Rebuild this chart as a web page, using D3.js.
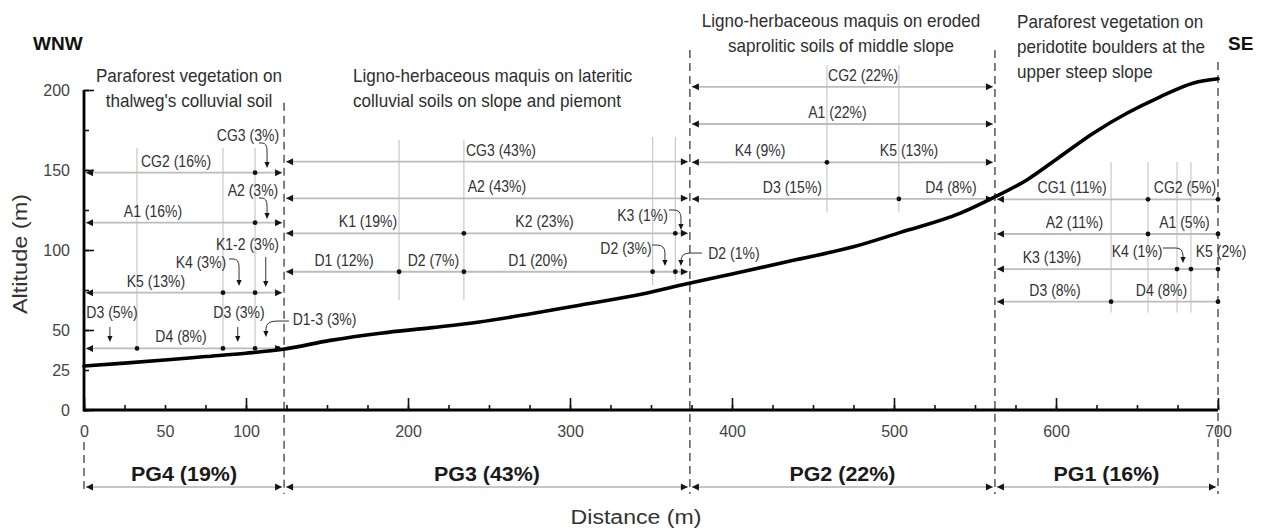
<!DOCTYPE html>
<html><head><meta charset="utf-8">
<script src="https://cdn.jsdelivr.net/npm/d3@7"></script>
<style>body{margin:0;background:#fff} svg{display:block}</style>
</head><body>
<svg id="c" width="1265" height="531"></svg>
<script>
// ---------- DATA ----------
const profileDist = [0, 25, 50, 75, 100, 123, 152, 183, 215, 244, 275, 306, 340, 368, 400, 440, 475, 504, 541, 562, 582, 602, 623, 644, 664, 685, 700];
const profileAlt  = [27.5, 29.3, 31.3, 33.4, 35.5, 38, 43.5, 48, 51.5, 55, 60, 65.5, 71.5, 78, 85, 94, 102, 111, 123, 133, 143.8, 158, 173, 185.6, 195.6, 204.4, 207];

const zoneBounds = [0, 123.5, 374, 562.3, 700];
const zoneLabels = ["PG4 (19%)", "PG3 (43%)", "PG2 (22%)", "PG1 (16%)"];
const zoneTitles = [
  ["Paraforest vegetation on", "thalweg's colluvial soil"],
  ["Ligno-herbaceous maquis on lateritic", "colluvial soils on slope and piemont"],
  ["Ligno-herbaceous maquis on eroded", "saprolitic soils of middle slope"],
  ["Paraforest vegetation on", "peridotite boulders at the", "upper steep slope"]
];
const directionLabels = ["WNW", "SE"];
const xTickLabels = [0, 50, 100, 200, 300, 400, 500, 600, 700];
const yTickLabels = [0, 25, 50, 100, 150, 200];

const pg4Rows = [
  {alt:148.3, breaks:[0,105.6,123.5], labels:[{t:"CG2 (16%)",at:56.8},{t:"CG3 (3%)",at:101.2,base:168.1}]},
  {alt:117.1, breaks:[0,105.6,123.5], labels:[{t:"A1 (16%)",at:42.6},{t:"A2 (3%)",at:104.3,base:133.75}]},
  {alt:73.3,  breaks:[0,85.8,105.6,123.5], labels:[{t:"K5 (13%)",at:44.4},{t:"K4 (3%)",at:72.2,base:88.75},{t:"K1-2 (3%)",at:100.9,base:100}]},
  {alt:38.5,  breaks:[0,32.7,85.8,105.6,119.8,123.5], labels:[{t:"D3 (5%)",at:17.3,base:57.5},{t:"D4 (8%)",at:59.9},{t:"D3 (3%)",at:95.7,base:57.5},{t:"D1-3 (3%)",at:148.5,base:53.1}]}
];
const pg3Rows = [
  {alt:155.2, breaks:[123.5,374], labels:[{t:"CG3 (43%)",at:257.4}]},
  {alt:132.3, breaks:[123.5,374], labels:[{t:"A2 (43%)",at:254.9}]},
  {alt:110.4, breaks:[123.5,234.5,365,374], labels:[{t:"K1 (19%)",at:175.3},{t:"K2 (23%)",at:284.3},{t:"K3 (1%)",at:344.8,base:118.1}]},
  {alt:86.4,  breaks:[123.5,194.5,234.5,351,365,374], labels:[{t:"D1 (12%)",at:160.5},{t:"D2 (7%)",at:215.7},{t:"D1 (20%)",at:280.2},{t:"D2 (3%)",at:334.6,base:97.5},{t:"D2 (1%)",at:401.2,base:94.4}]}
];
const pg2Rows = [
  {alt:202,    breaks:[374,562.3], labels:[{t:"CG2 (22%)",at:480.9}]},
  {alt:178.75, breaks:[374,562.3], labels:[{t:"A1 (22%)",at:465.1}]},
  {alt:154.8,  breaks:[374,458.6,562.3], labels:[{t:"K4 (9%)",at:417.3},{t:"K5 (13%)",at:509.3}]},
  {alt:131.9,  breaks:[374,503,562.3], labels:[{t:"D3 (15%)",at:437.3},{t:"D4 (8%)",at:535.2}]}
];
const pg1Rows = [
  {alt:131.7, breaks:[562.3,656.8,700], labels:[{t:"CG1 (11%)",at:609.9},{t:"CG2 (5%)",at:679.6}]},
  {alt:110,   breaks:[562.3,656.8,700], labels:[{t:"A2 (11%)",at:611.4},{t:"A1 (5%)",at:679.3}]},
  {alt:88.1,  breaks:[562.3,674.7,683.3,700], labels:[{t:"K3 (13%)",at:597.5},{t:"K4 (1%)",at:650,base:95.6},{t:"K5 (2%)",at:701.9,base:95.6}]},
  {alt:67.7,  breaks:[562.3,634,700], labels:[{t:"D3 (8%)",at:599.4},{t:"D4 (8%)",at:665.1}]}
];

// vertical guide lines (distance, top altitude, bottom altitude)
const guideLines = [
  {at:32.7, top:163.75, bottom:38.5}, {at:85.8, top:163.75, bottom:38.5}, {at:105.6, top:163.75, bottom:38.5},
  {at:194.5, top:168.75, bottom:68.75}, {at:234.5, top:168.75, bottom:68.75}, {at:351, top:170.6, bottom:78}, {at:365, top:170.6, bottom:81},
  {at:458.6, top:215.6, bottom:123.75}, {at:503, top:215.6, bottom:123.75},
  {at:634, top:155, bottom:61}, {at:656.8, top:155, bottom:61}, {at:674.7, top:155, bottom:61}, {at:683.3, top:155, bottom:61}
];

// callout pointers (from label to segment), in data units
const callouts = [
  {from:[108.0,166.9], elbow:109.9, tip:[113.0,151.25]},
  {from:[108.0,132.5], elbow:109.9, tip:[113.0,119.4]},
  {from:[89.5,94.4],   elbow:92.0,  tip:[95.7,77.5]},
  {from:[112.2,95.6],  tip:[112.2,76.9]},
  {from:[16.0,51.9],   tip:[16.0,42.5]},
  {from:[94.9,51.9],   tip:[94.9,42.5]},
  {from:[126.5,55.6],  elbow:119.1, tip:[112.3,45.6]},
  {from:[361.1,125],   elbow:364.2, tip:[368.5,112.5]},
  {from:[350.6,103.1], elbow:353.7, tip:[358.6,90]},
  {from:[381.5,98.1],  elbow:374.1, tip:[368.5,90]},
  {from:[666.0,101.25],elbow:674.1, tip:[678.4,91.9]}
];

// ---------- LAYOUT ----------
const FONT = "'Liberation Sans', Arial, Helvetica, sans-serif";
const svg = d3.select("#c");
const x = d3.scaleLinear().domain([0, 700]).range([84, 1218]);
const y = d3.scaleLinear().domain([0, 200]).range([410, 90]);

function txt(g, s, px, py, o) {
  o = o || {};
  const t = g.append("text")
    .attr("transform", `translate(${px},${py})` + (o.rot ? ` rotate(${o.rot})` : "") + ` scale(${o.sx || 1},1)`)
    .attr("font-family", FONT)
    .attr("font-size", o.size || 16)
    .attr("font-weight", o.weight || "normal")
    .attr("text-anchor", o.anchor || "middle")
    .attr("fill", o.fill || "#333")
    .text(s);
  return t;
}

const gGuides = svg.append("g");
const gRows = svg.append("g");
const gDash = svg.append("g");
const gMarks = svg.append("g");
const gCurve = svg.append("g");
const gText = svg.append("g");
const gAxis = svg.append("g");

// guides
gGuides.selectAll("line").data(guideLines).join("line")
  .attr("x1", d => x(d.at)).attr("x2", d => x(d.at))
  .attr("y1", d => y(d.top)).attr("y2", d => y(d.bottom))
  .attr("stroke", "#c9c9c9").attr("stroke-width", 1.2);

function arrowHead(g, tx, ty, dir, len, half) {
  // dir: -1 left, 1 right, 2 down
  len = len || 7; half = half || 3.5;
  let p;
  if (dir === -1) p = `M${tx},${ty}L${tx+len},${ty-half}L${tx+len},${ty+half}Z`;
  else if (dir === 1) p = `M${tx},${ty}L${tx-len},${ty-half}L${tx-len},${ty+half}Z`;
  else p = `M${tx},${ty}L${tx-half},${ty-len}L${tx+half},${ty-len}Z`;
  g.append("path").attr("d", p).attr("fill", "#151515");
}

const allRows = [pg4Rows, pg3Rows, pg2Rows, pg1Rows];
allRows.forEach(rows => {
  rows.forEach(r => {
    const b = r.breaks;
    const yy = y(r.alt);
    const x0 = x(b[0]) + 2;
    const endsAtEdge = b[b.length - 1] >= 700;
    const x1 = endsAtEdge ? x(b[b.length - 1]) : x(b[b.length - 1]) - 2;
    gRows.append("line").attr("x1", x0).attr("x2", x1).attr("y1", yy).attr("y2", yy)
      .attr("stroke", "#bcbcbc").attr("stroke-width", 1.8);
    arrowHead(gMarks, x0, yy, -1);
    if (endsAtEdge) {
      gMarks.append("circle").attr("cx", x1).attr("cy", yy).attr("r", 2.4).attr("fill", "#111");
    } else {
      arrowHead(gMarks, x1, yy, 1);
    }
    b.slice(1, -1).forEach(v => {
      gMarks.append("circle").attr("cx", x(v)).attr("cy", yy).attr("r", 2.4).attr("fill", "#111");
    });
    r.labels.forEach(l => {
      const by = l.base !== undefined ? y(l.base) : yy - 6;
      txt(gText, l.t, x(l.at), by, {size: 16.5, sx: 0.85, fill: "#333"});
    });
  });
});

// dashed boundaries
const dashTops = [null, 192, 225, 225, 217.5];
zoneBounds.forEach((b, i) => {
  gDash.append("line")
    .attr("x1", x(b)).attr("x2", x(b))
    .attr("y1", dashTops[i] === null ? 442 : y(dashTops[i])).attr("y2", 494)
    .attr("stroke", "#4a4a4a").attr("stroke-width", 1.4).attr("stroke-dasharray", "8,5");
});

// zone arrows and labels at bottom
for (let i = 0; i < 4; i++) {
  const a = x(zoneBounds[i]) + 2, c = x(zoneBounds[i + 1]) - 2, yy = 487;
  gRows.append("line").attr("x1", a).attr("x2", c).attr("y1", yy).attr("y2", yy)
    .attr("stroke", "#c6c6c6").attr("stroke-width", 2);
  arrowHead(gMarks, a, yy, -1);
  arrowHead(gMarks, c, yy, 1);
  txt(gText, zoneLabels[i], x((zoneBounds[i] + zoneBounds[i + 1]) / 2), 481,
      {size: 19.5, weight: "bold", sx: 1.1, fill: "#1a1a1a"});
}

// profile curve
const line = d3.line().x((d, i) => x(profileDist[i])).y(d => y(d)).curve(d3.curveMonotoneX);
gCurve.append("path").attr("d", line(profileAlt))
  .attr("fill", "none").attr("stroke", "#000").attr("stroke-width", 3.6).attr("stroke-linecap", "round");

// callouts
callouts.forEach(c => {
  const fx = x(c.from[0]), fy = y(c.from[1]), tx = x(c.tip[0]), ty = y(c.tip[1]);
  let d;
  if (c.elbow === undefined) d = `M${fx},${fy}L${tx},${ty - 4}`;
  else {
    const ex = x(c.elbow);
    d = `M${fx},${fy}L${ex},${fy}Q${tx},${fy} ${tx},${Math.min(fy + 8, ty - 4)}L${tx},${ty - 4}`;
  }
  gText.append("path").attr("d", d).attr("fill", "none").attr("stroke", "#333").attr("stroke-width", 1);
  arrowHead(gText, tx, ty, 2, 6, 2.6);
});

// titles
const titleLayout = [
  {x: 189, y: 82, anchor: "middle"},
  {x: 353, y: 82, anchor: "start"},
  {x: 841, y: 27, anchor: "middle"},
  {x: 1017, y: 28, anchor: "start"}
];
zoneTitles.forEach((lines, i) => {
  lines.forEach((s, j) => {
    txt(gText, s, titleLayout[i].x, titleLayout[i].y + j * 25,
        {size: 18, sx: 0.95, anchor: titleLayout[i].anchor, fill: "#2e2e2e"});
  });
});
txt(gText, directionLabels[0], 33, 50, {size: 19, weight: "bold", anchor: "start", fill: "#111"});
txt(gText, directionLabels[1], 1228, 50, {size: 19, weight: "bold", anchor: "start", fill: "#111"});

// axes
function cleanAxis(g) { g.select(".domain").remove(); }
const gx1 = gAxis.append("g").attr("transform", `translate(0,${y(0)})`)
  .call(d3.axisBottom(x).tickValues(d3.range(0, 701, 25)).tickSize(-5).tickFormat(""));
const gx2 = gAxis.append("g").attr("transform", `translate(0,${y(0)})`)
  .call(d3.axisBottom(x).tickValues(d3.range(0, 701, 100)).tickSize(-12).tickFormat(""));
const gx3 = gAxis.append("g").attr("transform", `translate(0,${y(0)})`)
  .call(d3.axisBottom(x).tickValues(xTickLabels).tickSize(0).tickPadding(16));
const gy1 = gAxis.append("g").attr("transform", `translate(${x(0)},0)`)
  .call(d3.axisLeft(y).tickValues(d3.range(0, 201, 25)).tickSize(-5).tickFormat(""));
const gy2 = gAxis.append("g").attr("transform", `translate(${x(0)},0)`)
  .call(d3.axisLeft(y).tickValues(d3.range(0, 201, 50)).tickSize(-10).tickFormat(""));
const gy3 = gAxis.append("g").attr("transform", `translate(${x(0)},0)`)
  .call(d3.axisLeft(y).tickValues(yTickLabels).tickSize(0).tickPadding(14));
[gx1, gx2, gx3, gy1, gy2, gy3].forEach(cleanAxis);
[gx1, gx2, gy1, gy2].forEach(g => g.selectAll("line").attr("stroke", "#111").attr("stroke-width", 1.6));
[gx3, gy3].forEach(g => g.selectAll("text").attr("font-family", FONT).attr("font-size", 16).attr("fill", "#444"));

gAxis.append("line").attr("x1", x(0)).attr("x2", x(700)).attr("y1", y(0)).attr("y2", y(0))
  .attr("stroke", "#000").attr("stroke-width", 2.8);
gAxis.append("line").attr("x1", x(0)).attr("x2", x(0)).attr("y1", y(0) + 1.4).attr("y2", y(200))
  .attr("stroke", "#000").attr("stroke-width", 2.8);

txt(gAxis, "Altitude (m)", 27, 254, {size: 21, rot: -90, sx: 1.12, fill: "#333"});
txt(gAxis, "Distance (m)", 636, 524, {size: 21, sx: 1.1, fill: "#333"});
</script>
</body></html>
